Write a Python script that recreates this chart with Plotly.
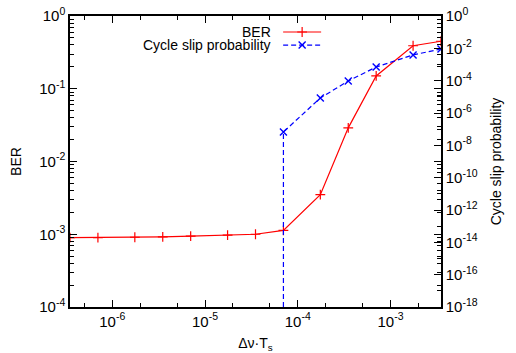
import numpy as np
import plotly.graph_objects as go

# Normalised laser linewidth (Δν·Ts) sweep
dnu_ts = [3.5e-7, 7e-7, 1.75e-6, 3.5e-6, 7e-6, 1.75e-5, 3.5e-5, 7e-5,
          1.75e-4, 3.5e-4, 7e-4, 1.75e-3, 3.5e-3]
ber = [9.0e-4, 9.0e-4, 9.1e-4, 9.2e-4, 9.4e-4, 9.7e-4, 1.0e-3, 1.13e-3,
       3.5e-3, 2.9e-2, 0.15, 0.39, 0.45]

# Cycle slips only observed from 7e-5 upward
slip_x = [7e-5, 1.75e-4, 3.5e-4, 7e-4, 1.75e-3, 3.5e-3]
slip_p = [6.7e-8, 8.5e-6, 9.5e-5, 7e-4, 3.9e-3, 9.1e-3]

x_range = [np.log10(3.5e-7), np.log10(3.5e-3)]
ber_range = [-4, 0]
slip_range = [-18, 0]

x_ticks = [1e-6, 1e-5, 1e-4, 1e-3]
x_ticktext = ["10<sup>-6</sup>", "10<sup>-5</sup>", "10<sup>-4</sup>", "10<sup>-3</sup>"]
ber_exps = [-4, -3, -2, -1, 0]
slip_exps = [-18, -16, -14, -12, -10, -8, -6, -4, -2, 0]

def pow_labels(exps):
    return [f"10<sup>{e}</sup>" for e in exps]

x_minor = [m * 10.0 ** e for e in range(-7, -2) for m in (2, 5)]

RED = "#ff0000"
BLUE = "#0000ff"
FONT = "Liberation Sans, Arial, sans-serif"

# below the first observed slip, the curve drops off the log scale
drop_floor = 10.0 ** (slip_range[0] - 0.5)
line_x = [slip_x[0]] + slip_x
line_y = [drop_floor] + slip_p

fig = go.Figure()
fig.add_trace(go.Scatter(
    x=dnu_ts, y=ber, name="", mode="lines+markers", legend="legend",
    line=dict(color=RED, width=1.2),
    marker=dict(symbol="cross-thin", size=7, line=dict(color=RED, width=1.2)),
))
fig.add_trace(go.Scatter(
    x=line_x, y=line_y, name="", mode="lines+markers", yaxis="y2", legend="legend2",
    line=dict(color=BLUE, width=1.2, dash="5px,3px"),
    marker=dict(symbol="x-thin", size=7, line=dict(color=BLUE, width=1.4)),
))

axis_common = dict(
    type="log", showgrid=False, showline=True, linecolor="black", linewidth=1.5,
    ticks="inside", ticklen=7, tickcolor="black", zeroline=False, automargin=False,
    tickfont=dict(family=FONT, size=15, color="black"),
)

legend_common = dict(
    xanchor="left", yanchor="middle", bgcolor="rgba(0,0,0,0)",
    font=dict(size=10), itemwidth=38,
)

fig.update_layout(
    width=516, height=353,
    margin=dict(l=70, r=75, t=16, b=46),
    paper_bgcolor="white", plot_bgcolor="white",
    font=dict(family=FONT, size=14, color="black"),
    showlegend=True,
    legend=dict(**legend_common, x=0.561, y=0.945),
    legend2=dict(**legend_common, x=0.561, y=0.9),
    xaxis=dict(
        **axis_common, range=x_range, mirror="ticks",
        tickvals=x_ticks, ticktext=x_ticktext,
        minor=dict(tickvals=x_minor, ticks="inside", ticklen=4, tickcolor="black"),
        title=dict(text="Δν·T<sub>s</sub>", standoff=12, font=dict(size=14)),
    ),
    yaxis=dict(
        **axis_common, range=ber_range, mirror="ticks",
        tickvals=[10.0 ** e for e in ber_exps], ticktext=pow_labels(ber_exps),
        minor=dict(dtick="D1", ticks="inside", ticklen=4, tickcolor="black"),
        title=dict(text="BER", standoff=14, font=dict(size=14)),
    ),
    yaxis2=dict(
        **axis_common, range=slip_range, overlaying="y", side="right",
        tickvals=[10.0 ** e for e in slip_exps], ticktext=pow_labels(slip_exps),
        minor=dict(dtick=1, ticks="inside", ticklen=4, tickcolor="black"),
        title=dict(text="Cycle slip probability", standoff=14, font=dict(size=14)),
    ),
)

# series labels, right-aligned to the left of each legend sample
for i, label in enumerate(["BER", "Cycle slip probability"]):
    fig.add_annotation(
        xref="paper", yref="paper", x=0.548, y=0.945 - i * 0.045,
        xanchor="right", yanchor="middle", showarrow=False,
        text=label, font=dict(family=FONT, size=14, color="black"),
    )

fig.write_html("out.html")
